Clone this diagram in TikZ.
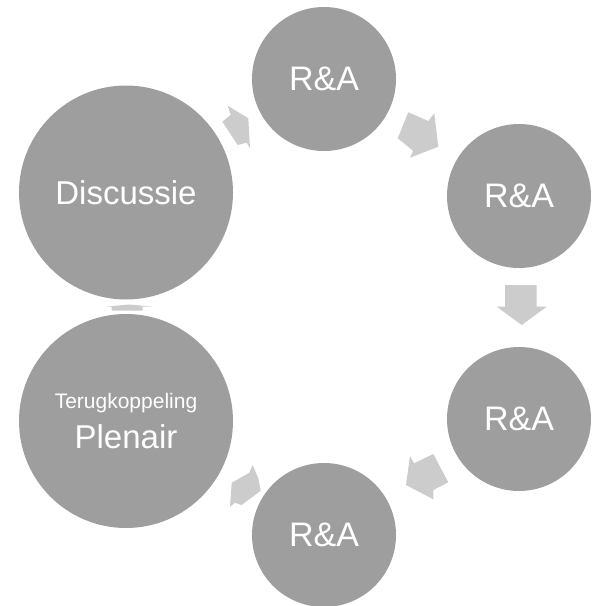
\documentclass[tikz,border=0pt]{standalone}
\usepackage{fontspec}
\setmainfont{Liberation Sans}
\usepackage{tikz}
\usepackage{xcolor}
\definecolor{cirkelgrijs}{RGB}{158,158,158}
\definecolor{pijlgrijs}{RGB}{204,204,204}

\begin{document}
\begin{tikzpicture}[x=1pt,y=-1pt]
		\tikzstyle{every node}+=[inner sep=0pt]
		\tikzstyle{klein}=[circle, fill=cirkelgrijs, text=white, minimum size=144pt, font=\fontsize{34}{40}\selectfont]
		\tikzstyle{groot}=[circle, fill=cirkelgrijs, text=white, minimum size=214pt, align=center, font=\fontsize{33}{40}\selectfont]
		\tikzstyle{pijl}=[fill=pijlgrijs]
		\useasboundingbox (0,0) rectangle (593,606);
		\node [klein] (ra1) at (324,79) {R\&A};
		\node [klein] (ra2) at (519,196) {R\&A};
		\node [klein] (ra3) at (519,419) {R\&A};
		\node [klein] (ra4) at (324,535) {R\&A};
		\node [groot] (disc) at (126,192.5) {Discussie};
		\node [groot] (plen) at (126,421) {{\fontsize{21}{25}\selectfont Terugkoppeling}\\Plenair};
		% pijlen tussen de cirkels
		\fill [pijl] (227.7,105.7) -- (248.3,118.3) -- (250,148.3) -- (246.7,142.7) -- (237.7,145) -- (222.3,121.7) -- (230.7,115) -- cycle;
		\fill [pijl] (408.3,112.3) -- (428.3,121) -- (434.3,113.3) -- (438.3,146.7) -- (410,157.7) -- (413.3,151) -- (397.7,138.3) -- cycle;
		\fill [pijl] (505,285) -- (536.7,285) -- (536.7,306.7) -- (546.7,306.7) -- (521.7,325) -- (496.7,306.7) -- (505,306.7) -- cycle;
		\fill [pijl] (410,456) -- (414,463.3) -- (433.3,454) -- (448.3,482.3) -- (433.3,490) -- (433.3,499.3) -- (406,485) -- cycle;
		\fill [pijl] (252.7,465) -- (249.3,472.7) -- (231.7,482.7) -- (230,506.7) -- (235,502.7) -- (241.7,505) -- (260.7,490.7) -- (258.3,478.3) -- cycle;
		\fill [pijl] (111.7,310.5) -- (111.7,306.5) -- (107,306.5) -- (129,304.5) -- (152,306.5) -- (142.5,306.5) -- (142.5,310.5) -- cycle;
\end{tikzpicture}
\end{document}
